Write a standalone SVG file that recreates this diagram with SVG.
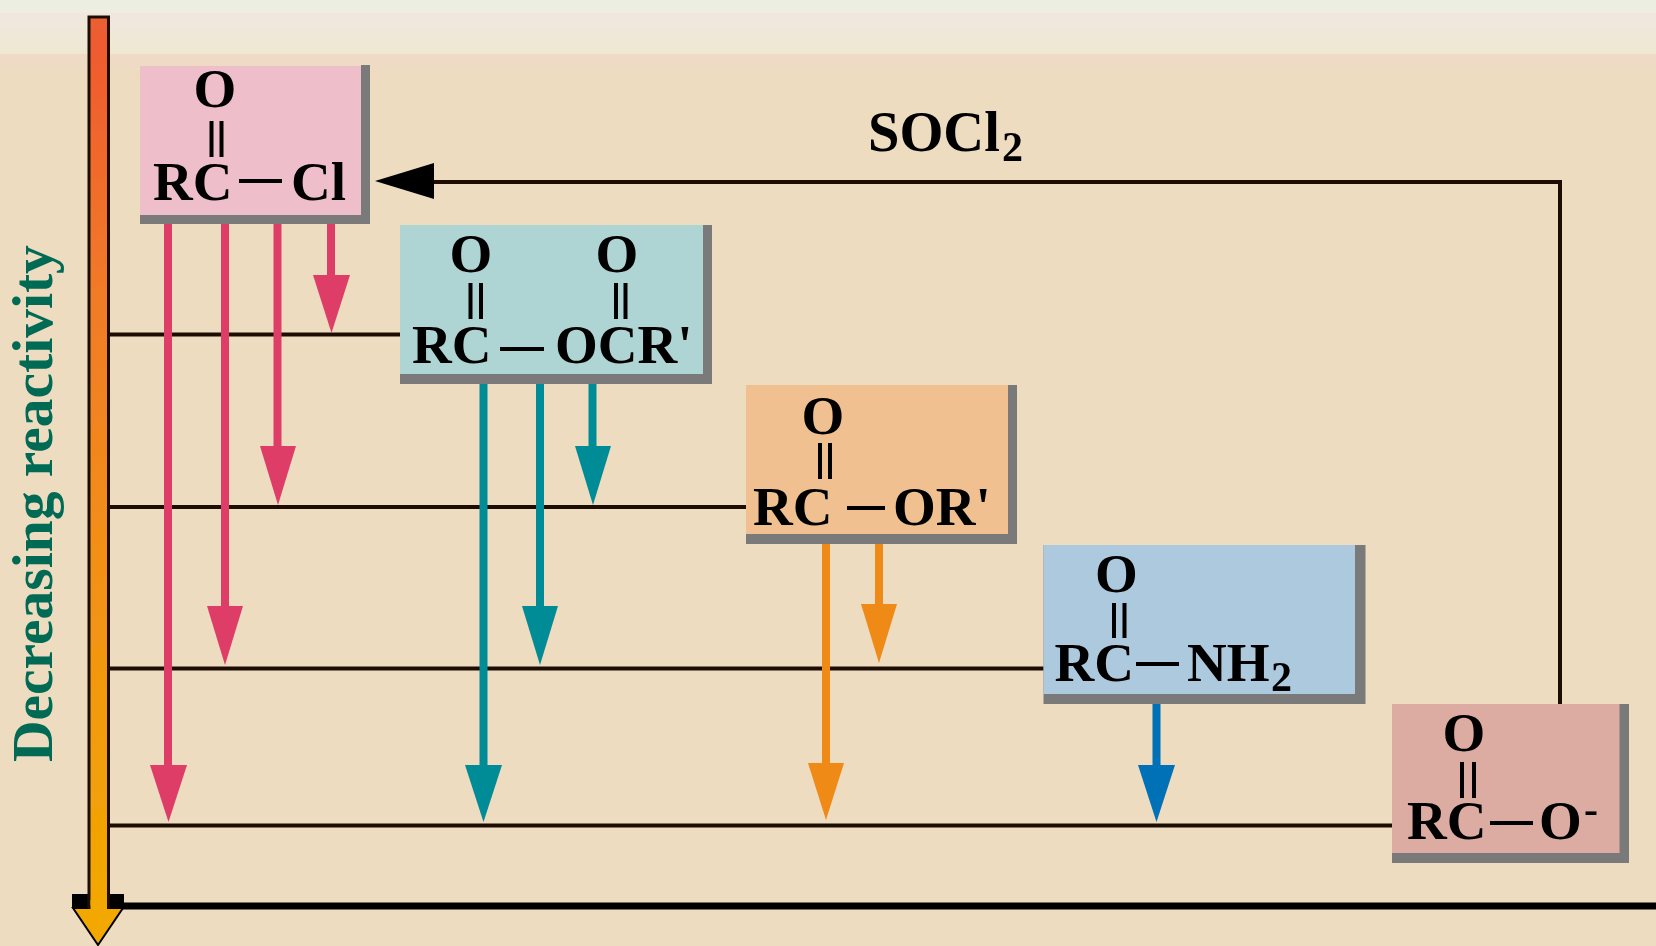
<svg xmlns="http://www.w3.org/2000/svg" width="1656" height="946" viewBox="0 0 1656 946">
<defs>
<linearGradient id="bar" x1="0" y1="0" x2="0" y2="1">
<stop offset="0" stop-color="#ea6034"/><stop offset="0.03" stop-color="#ef5a30"/><stop offset="0.3" stop-color="#f07a28"/><stop offset="0.6" stop-color="#f28f18"/><stop offset="1" stop-color="#f2a800"/>
</linearGradient>
<linearGradient id="top" x1="0" y1="0" x2="0" y2="1">
<stop offset="0" stop-color="#f0e8e0"/><stop offset="1" stop-color="#eee8d2"/>
</linearGradient>
<linearGradient id="top2" x1="0" y1="0" x2="0" y2="1">
<stop offset="0" stop-color="#efdac8"/><stop offset="1" stop-color="#eddcc0"/>
</linearGradient>
<filter id="soft" x="0" y="0" width="100%" height="100%"><feGaussianBlur stdDeviation="0.6"/></filter>
</defs>
<style>
text{font-family:"Liberation Serif","Times New Roman",serif;font-weight:700;fill:#000;font-size:55px}
.mid{text-anchor:middle}
.sub{font-size:42px}
.shadow{fill:#7a7a7a}
.bond{stroke:#000;stroke-width:4;fill:none}
.rule{stroke:#1a0f05;stroke-width:4;fill:none}
.pink{stroke:#de3d68;fill:#de3d68}
.teal{stroke:#008c96;fill:#008c96}
.orange{stroke:#ef8a17;fill:#ef8a17}
.blue{stroke:#0071b6;fill:#0071b6}
.arrow line{stroke-width:8}
.arrow polygon{stroke:none}
</style>
<g filter="url(#soft)">
<rect width="1656" height="946" fill="#eddcc0"/>
<rect width="1656" height="13" fill="#edeee2"/>
<rect y="13" width="1656" height="41" fill="url(#top)"/>
<rect y="54" width="1656" height="22" fill="url(#top2)"/>

<g id="connectors">
<line class="rule" x1="108" y1="334.500" x2="400" y2="334.500"/>
<line class="rule" x1="108" y1="507" x2="746" y2="507"/>
<line class="rule" x1="108" y1="668.500" x2="1044" y2="668.500"/>
<line class="rule" x1="108" y1="825.500" x2="1392" y2="825.500"/>
<g class="arrow pink">
<line x1="168" y1="224" x2="168" y2="770"/><polygon points="150,765 187,765 168.500,822"/>
<line x1="225" y1="224" x2="225" y2="610"/><polygon points="207,606 243,606 225,665"/>
<line x1="277.500" y1="224" x2="277.500" y2="450"/><polygon points="260,446 296,446 278,505"/>
<line x1="331" y1="224" x2="331" y2="280"/><polygon points="313,275 350,275 331.500,333"/>
</g>
<g class="arrow teal">
<line x1="483.500" y1="384" x2="483.500" y2="770"/><polygon points="465,765 502,765 483.500,822"/>
<line x1="540" y1="384" x2="540" y2="610"/><polygon points="522,606 558,606 540,665"/>
<line x1="592.500" y1="384" x2="592.500" y2="450"/><polygon points="575,446 611,446 593,505"/>
</g>
<g class="arrow orange">
<line x1="826" y1="544" x2="826" y2="770"/><polygon points="808,763 844,763 826,820"/>
<line x1="879" y1="544" x2="879" y2="610"/><polygon points="861,604 897,604 879,663"/>
</g>
<g class="arrow blue">
<line x1="1156.500" y1="704" x2="1156.500" y2="770"/><polygon points="1138,765 1175,765 1156.500,822"/>
</g>
<polyline class="rule" points="1560,704 1560,182 430,182"/>
<polygon points="375,181 434,163 434,199" fill="#000"/>
<line x1="120" y1="906" x2="1656" y2="906" stroke="#000" stroke-width="7"/>
</g>

<g id="reactivity-axis">
<rect x="72" y="894" width="52" height="14" fill="#000"/>
<polygon points="73,908 123,908 98,945" fill="#f2a800" stroke="#000" stroke-width="2"/>
<rect x="89" y="17" width="19.500" height="890" fill="url(#bar)" stroke="#1a0f05" stroke-width="3"/>
<rect x="90.500" y="900" width="16.500" height="10" fill="#f2a800"/>
<text transform="translate(52 762) rotate(-90)" style="fill:#006b54;font-size:57.500px">Decreasing reactivity</text>
</g>

<g id="acid-chloride">
<rect class="shadow" x="140" y="66" width="230" height="158"/><rect x="361" y="65" width="9" height="2" class="shadow"/><rect x="140" y="66" width="221" height="149" fill="#efbecb"/>
<text class="mid" x="215" y="107">O</text>
<path class="bond" d="M211.500 121V157M221.500 121V157"/>
<text x="153" y="200">RC</text><path class="bond" d="M239 181H282"/><text x="291" y="200">Cl</text>
</g>

<g id="anhydride">
<rect class="shadow" x="400" y="225" width="312" height="159"/><rect x="400" y="225" width="303" height="149" fill="#afd4d4"/>
<text class="mid" x="471" y="272">O</text><text class="mid" x="617" y="272">O</text>
<path class="bond" d="M470.500 283V319M481 283V319M616 283V319M625.500 283V319"/>
<text x="412" y="363">RC</text><path class="bond" d="M500 349H544"/><text x="555" y="363">OCR'</text>
</g>

<g id="ester">
<rect class="shadow" x="746" y="385" width="271" height="159"/><rect x="746" y="385" width="262" height="149" fill="#f0c090"/>
<text class="mid" x="823" y="434">O</text>
<path class="bond" d="M820 443V479M830 443V479"/>
<text x="753" y="525">RC</text><path class="bond" d="M847 508H885"/><text x="893" y="525">OR'</text>
</g>

<g id="amide">
<rect class="shadow" x="1043.500" y="545" width="322" height="159"/><rect x="1043.500" y="545" width="311.500" height="149" fill="#adc9dd"/>
<text class="mid" x="1116.500" y="592">O</text>
<path class="bond" d="M1114 603V638M1124.500 603V638"/>
<text x="1054.500" y="681">RC</text><path class="bond" d="M1136 664H1179"/><text x="1187" y="681">NH</text><text class="sub" x="1271" y="691">2</text>
</g>

<g id="carboxylate">
<rect class="shadow" x="1392" y="704" width="237" height="159"/><rect x="1392" y="704" width="227.500" height="149" fill="#dcaca2"/>
<text class="mid" x="1464" y="751">O</text>
<path class="bond" d="M1462 762V798M1474 762V798"/>
<text x="1407" y="839">RC</text><path class="bond" d="M1490 823H1533"/><text x="1539" y="839">O</text><text class="sub" x="1584" y="823">-</text>
</g>

<g id="reagent"><text x="868" y="151" style="font-size:56.500px">SOCl</text><text class="sub" x="1002" y="161">2</text></g>
</g>
</svg>
